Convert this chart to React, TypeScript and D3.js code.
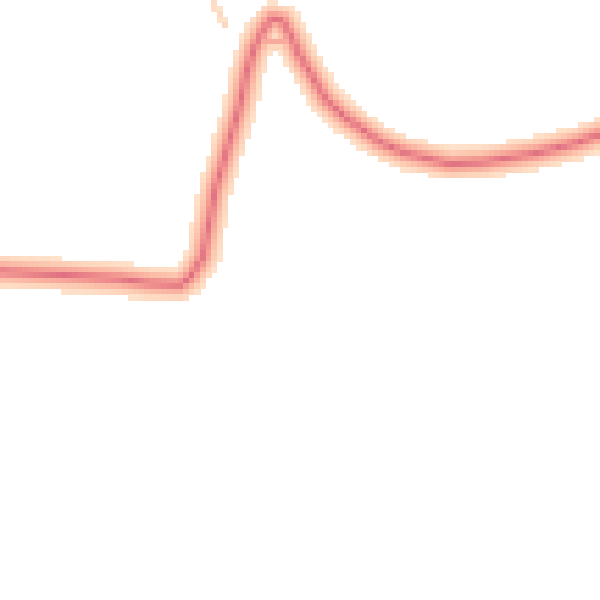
import React from "react";
import * as d3 from "d3";

// Center line of the density band (time, value)
const times = [0, 10, 20, 25, 30, 31.7, 33.8, 35.8, 40, 41, 42.2, 43.8, 45.3, 47, 48.5, 49.8, 51.7, 54.2, 57.5, 63.3, 67.5, 75, 80.5, 89.5, 96.2, 100];
const values = [54.8, 54.2, 53.5, 52.8, 52.5, 53.8, 57.2, 68.3, 82.5, 87.5, 91.7, 95, 96.9, 96.6, 94, 91, 87.8, 83.5, 80.5, 76.3, 74.5, 72.7, 73, 74.5, 76.2, 77.6];

// Secondary branch near the peak
const branchTimes = [43.5, 49];
const branchValues = [93, 93];

// Faint outlier trace
const outlierTimes = [35.2, 37.5];
const outlierValues = [100, 95.8];

const colorStops = ["#fee4cd", "#fdcbb2", "#f9ad9b", "#f1928f", "#df7082"];

const W = 600;
const H = 600;
const N = 108;

function distToPolyline(px: number, py: number, pts: [number, number][]) {
  let best = Infinity;
  for (let i = 0; i < pts.length - 1; i++) {
    const [x1, y1] = pts[i];
    const [x2, y2] = pts[i + 1];
    const dx = x2 - x1, dy = y2 - y1;
    const L = dx * dx + dy * dy;
    let t = L === 0 ? 0 : ((px - x1) * dx + (py - y1) * dy) / L;
    t = Math.max(0, Math.min(1, t));
    const cx = x1 + t * dx, cy = y1 + t * dy;
    const d = Math.hypot(px - cx, py - cy);
    if (d < best) best = d;
  }
  return best;
}

export default function App() {
  const x = d3.scaleLinear().domain([0, 100]).range([0, W]);
  const y = d3.scaleLinear().domain([0, 100]).range([H, 0]);
  const color = d3.scaleSequential(d3.interpolateRgbBasis(colorStops)).domain([0, 1]);

  const series = [
    { pts: times.map((t, i) => [x(t), y(values[i])] as [number, number]), w: 1, r: 18 },
    { pts: branchTimes.map((t, i) => [x(t), y(branchValues[i])] as [number, number]), w: 0.55, r: 9 },
    { pts: outlierTimes.map((t, i) => [x(t), y(outlierValues[i])] as [number, number]), w: 0.12, r: 5 },
  ];

  const cs = W / N;
  const cells: { i: number; j: number; v: number }[] = [];
  for (let i = 0; i < N; i++) {
    for (let j = 0; j < N; j++) {
      const cx = (i + 0.5) * cs;
      const cy = (j + 0.5) * cs;
      let v = 0;
      for (const s of series) {
        const d = distToPolyline(cx, cy, s.pts);
        const c = s.w * Math.pow(Math.max(0, 1 - d / s.r), 1.6);
        if (c > v) v = c;
      }
      if (v > 0.015) cells.push({ i, j, v });
    }
  }

  return (
    <div style={{ position: "fixed", left: 0, top: 0, width: W, height: H, background: "#fff" }}>
      <svg width={W} height={H} style={{ display: "block" }} shapeRendering="crispEdges">
        <rect width={W} height={H} fill="#fff" />
        {cells.map((c) => (
          <rect
            key={c.i + "-" + c.j}
            x={c.i * cs}
            y={c.j * cs}
            width={cs + 0.5}
            height={cs + 0.5}
            fill={color(c.v)}
          />
        ))}
      </svg>
    </div>
  );
}
